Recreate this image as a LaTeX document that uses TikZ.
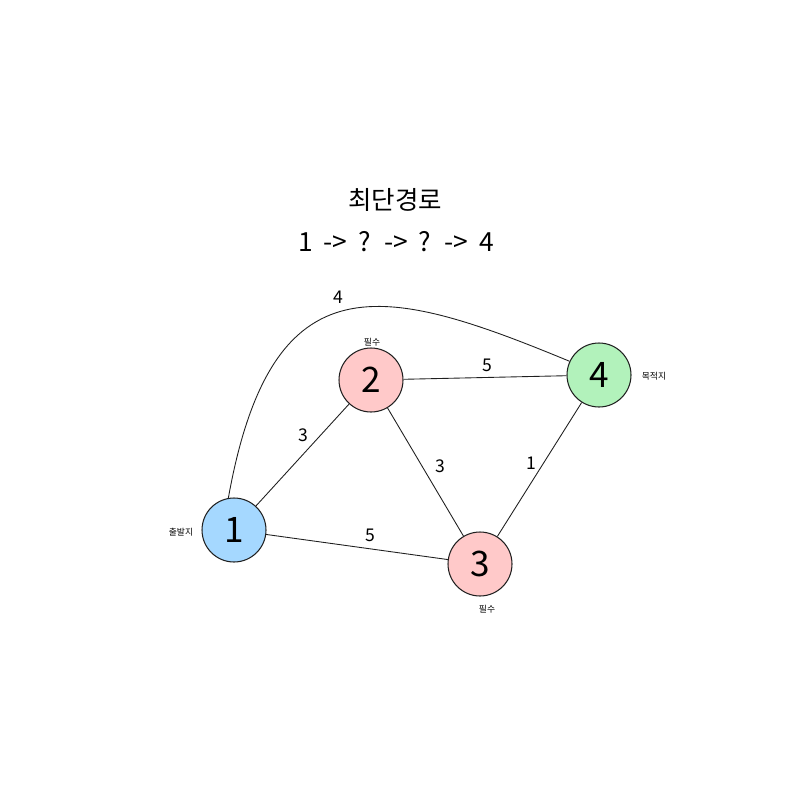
\documentclass[tikz,border=0pt]{standalone}
\usepackage{fontspec}
\setmainfont{Noto Sans CJK KR}
\usetikzlibrary{positioning}

\begin{document}
\begin{tikzpicture}[x=0.02cm, y=-0.02cm,
  city/.style={circle, draw=black!88, line width=0.6pt, minimum size=1.28cm,
               inner sep=0pt, font=\fontsize{20}{20}\selectfont},
  road/.style={draw=black!88, line width=0.5pt},
  cost/.style={font=\fontsize{10}{10}\selectfont},
  tag/.style={font=\fontsize{5}{5}\selectfont}]
\useasboundingbox (0,0) rectangle (788,801);

% title
\node[font=\fontsize{14.5}{14.5}\selectfont] (title) at (395,200) {최단경로};
\node[font=\fontsize{15}{15}\selectfont] (path) at (396,242)
  {\spaceskip=0.42em 1 -> ? -> ? -> 4};

% cities
\node[city, fill={rgb,255:red,165;green,216;blue,255}] (n1) at (234,530) {1};
\node[city, fill={rgb,255:red,255;green,201;blue,201}] (n2) at (371,380) {2};
\node[city, fill={rgb,255:red,255;green,201;blue,201}] (n3) at (480,564) {3};
\node[city, fill={rgb,255:red,178;green,242;blue,187}] (n4) at (599,375) {4};

\node[tag] (t1) at (181,532) {출발지};
\node[tag] (t2) at (372,342) {필수};
\node[tag] (t3) at (487,609) {필수};
\node[tag] (t4) at (654,376) {목적지};

% roads
\draw[road] (n1) -- (n2);
\draw[road] (n1) -- (n3);
\draw[road] (n2) -- (n3);
\draw[road] (n2) -- (n4);
\draw[road] (n3) -- (n4);
\draw[road] (n1.100) .. controls (272,255) and (385,285) .. (n4.155);

\node[cost] (c14) at (338,297) {4};
\node[cost] (c24) at (487,365) {5};
\node[cost] (c12) at (303,435) {3};
\node[cost] (c23) at (440,466) {3};
\node[cost] (c34) at (531,463) {1};
\node[cost] (c13) at (370,535) {5};
\end{tikzpicture}
\end{document}
